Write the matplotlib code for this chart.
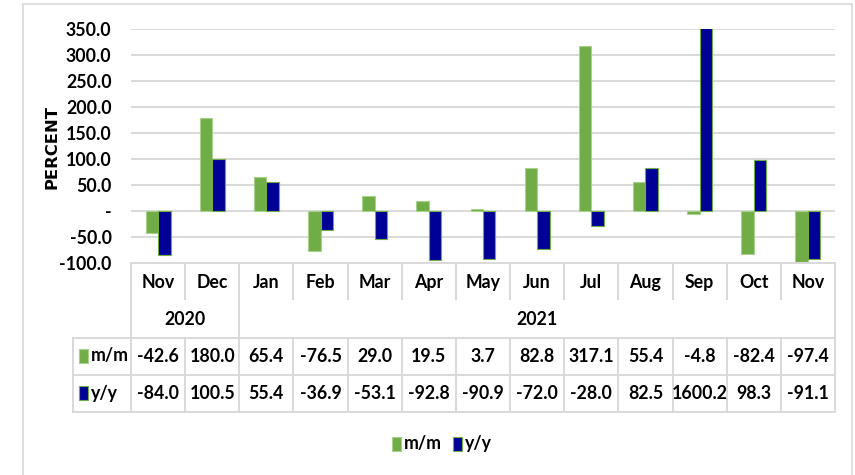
import matplotlib
matplotlib.use("Agg")
import matplotlib.pyplot as plt
from matplotlib import font_manager
from matplotlib.patches import Rectangle
import numpy as np

months = ["Nov", "Dec", "Jan", "Feb", "Mar", "Apr", "May", "Jun", "Jul", "Aug", "Sep", "Oct", "Nov"]
years = ["2020", "2021"]
year_spans = [(0, 1), (2, 12)]
mm = [-42.6, 180.0, 65.4, -76.5, 29.0, 19.5, 3.7, 82.8, 317.1, 55.4, -4.8, -82.4, -97.4]
yy = [-84.0, 100.5, 55.4, -36.9, -53.1, -92.8, -90.9, -72.0, -28.0, 82.5, 1600.2, 98.3, -91.1]
series_names = ["m/m", "y/y"]
yticks = [-100, -50, 0, 50, 100, 150, 200, 250, 300, 350]

GREEN = "#70AD47"
GREEN_EDGE = "#A9D18E"
BLUE = "#000096"
GRID = "#D9D9D9"

avail = {f.name for f in font_manager.fontManager.ttflist}
main_font = ["Lato", "Liberation Sans", "DejaVu Sans"]
main_font = [f for f in main_font if f in avail] or ["DejaVu Sans"]
FS = 12.8

W, H = 855, 475
fig = plt.figure(figsize=(W / 100, H / 100), dpi=100)

def fx(px):
    return px / W

def fy(py):
    return 1 - py / H

# outer chart border
fig.patches.append(Rectangle((fx(23), fy(478)), fx(852 - 23), fy(3.5) - fy(478),
                             transform=fig.transFigure, fill=False,
                             edgecolor="#D9D9D9", linewidth=1.2))

L, R = 131, 835
top_px, bot_px = 29.3, 263.3
ax = fig.add_axes([fx(L), fy(bot_px), fx(R - L), fy(top_px) - fy(bot_px)])
n = len(months)
x = np.arange(n)
bw = 0.23
ax.bar(x - bw / 2, mm, width=bw, color=GREEN, edgecolor=GREEN_EDGE, linewidth=0.8, zorder=3)
ax.bar(x + bw / 2, yy, width=bw, color=BLUE, edgecolor=GREEN, linewidth=0.8, zorder=3)
ax.set_xlim(-0.5, n - 0.5)
ax.set_ylim(-100, 350)
ax.set_yticks(yticks)
ax.set_yticklabels(["-" if v == 0 else f"{v:.1f}" for v in yticks],
                   fontfamily=main_font, fontweight="bold", fontsize=FS)
ax.tick_params(axis="y", length=0, pad=14)
ax.set_xticks([])
for v in yticks[1:]:
    ax.axhline(v, color=GRID, linewidth=1.4, zorder=1)
for s in ax.spines.values():
    s.set_visible(False)
ax.patch.set_alpha(0)

fig.text(fx(52), fy(147), "PERCENT", rotation=90, ha="center", va="center",
         fontfamily="DejaVu Sans", fontweight="bold", fontsize=11.8)

# data table
tb_top, tb_bot = 263.3, 411.7
tax = fig.add_axes([fx(L), fy(tb_bot), fx(R - L), fy(tb_top) - fy(tb_bot)])
tax.set_xlim(-0.5, n - 0.5)
tax.set_ylim(4, 0)
tax.axis("off")
lbl_left = -0.5 - (L - 73) / ((R - L) / n)
lk = dict(color=GRID, linewidth=1.4, clip_on=False)
# horizontal lines
tax.plot([-0.5, n - 0.5], [0, 0], **lk)
for r in (2, 3, 4):
    tax.plot([lbl_left, n - 0.5], [r, r], **lk)
# vertical lines
for b in np.arange(-0.5, n, 1.0):
    if b in (-0.5, n - 0.5):
        tax.plot([b, b], [0, 4], **lk)
    else:
        tax.plot([b, b], [0, 0.97], **lk)
        tax.plot([b, b], [2, 4], **lk)
tax.plot([1.5, 1.5], [0, 2], **lk)
tax.plot([lbl_left, lbl_left], [2, 4], **lk)

tk = dict(fontfamily=main_font, fontweight="bold", fontsize=FS, ha="center", va="center", clip_on=False)
for i, m in enumerate(months):
    tax.text(i, 0.52, m, **tk)
for yr, (a, b) in zip(years, year_spans):
    tax.text((a + b) / 2, 1.52, yr, **tk)
for i in range(n):
    tax.text(i, 2.52, f"{mm[i]:.1f}", **tk)
    tax.text(i, 3.52, f"{yy[i]:.1f}", **tk)

# row labels with keys
for row, (name, fc, ec) in enumerate(zip(series_names, [GREEN, BLUE], [GREEN_EDGE, GREEN])):
    ypx = 337 + 37.5 * row + 18.5
    fig.patches.append(Rectangle((fx(79), fy(ypx + 7)), fx(9), fy(ypx - 7) - fy(ypx + 7),
                                 transform=fig.transFigure, facecolor=fc, edgecolor=ec, linewidth=0.8))
    fig.text(fx(91), fy(ypx), name, ha="left", va="center",
             fontfamily=main_font, fontweight="bold", fontsize=FS)

# legend
leg_y = 444
for xs, name, fc, ec in [(392, "m/m", GREEN, GREEN_EDGE), (453, "y/y", BLUE, GREEN)]:
    fig.patches.append(Rectangle((fx(xs), fy(leg_y + 7)), fx(9), fy(leg_y - 7) - fy(leg_y + 7),
                                 transform=fig.transFigure, facecolor=fc, edgecolor=ec, linewidth=0.8))
    fig.text(fx(xs + 12), fy(leg_y), name, ha="left", va="center",
             fontfamily=main_font, fontweight="bold", fontsize=FS)

fig.savefig("out.png", dpi=100)
